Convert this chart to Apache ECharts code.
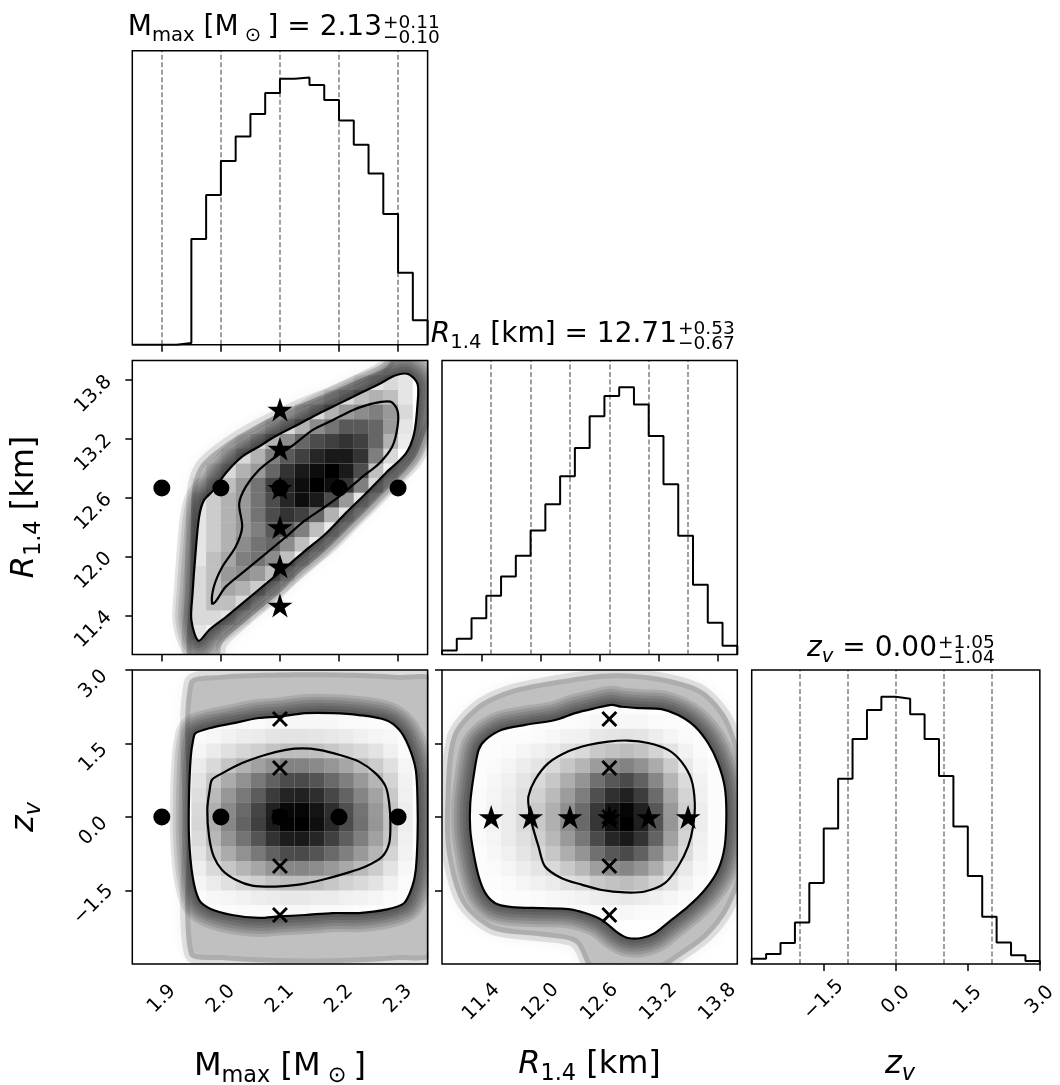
<!DOCTYPE html>
<html><head><meta charset="utf-8">
<script src="https://cdn.jsdelivr.net/npm/echarts@6/dist/echarts.min.js"></script>
<style>html,body{margin:0;padding:0;background:#fff}#c{width:1060px;height:1085px}</style>
</head><body><div id="c"></div>
<script>
const FONT = 'DejaVu Sans';

// ---------- 1D histograms ----------
const mmaxEdges = [1.85,1.875,1.9,1.925,1.95,1.975,2.0,2.025,2.05,2.075,2.1,2.125,2.15,2.175,2.2,2.225,2.25,2.275,2.3,2.325,2.35];
const mmaxCounts = [0,0,0,5,317,449,551,625,692,755,798,802,779,734,673,600,514,392,216,73];
const r14Edges = [11.0,11.15,11.3,11.45,11.6,11.75,11.9,12.05,12.2,12.35,12.5,12.65,12.8,12.95,13.1,13.25,13.4,13.55,13.7,13.85,14.0];
const r14Counts = [12,47,109,176,234,296,372,451,535,620,715,776,802,750,656,511,356,209,95,26];
const zvEdges = [-3.0,-2.7,-2.4,-2.1,-1.8,-1.5,-1.2,-0.9,-0.6,-0.3,0.0,0.3,0.6,0.9,1.2,1.5,1.8,2.1,2.4,2.7,3.0];
const zvCounts = [16,30,63,125,244,408,558,678,765,805,799,752,678,566,414,265,142,65,26,9];

// ---------- ticks ----------
const mmaxTicks = [1.9,2.0,2.1,2.2,2.3];
const r14Ticks = [11.4,12.0,12.6,13.2,13.8];
const zvTicks = [-1.5,0.0,1.5,3.0];

// ---------- marker values ----------
const mmaxMarks = [1.9,2.0,2.1,2.2,2.3];
const r14Marks = [11.5,11.9,12.3,12.7,13.1,13.5];
const zvMarks = [-2,-1,0,1,2];
const mmaxRef = 2.1, r14Ref = 12.7, zvRef = 0;

// ---------- 2D density (darkness 0-10), rows top -> bottom ----------
const densA = [
[0,0,0,0,0,0,0,0,0,0,0,0,0,0,0,0,0,0.2,0.3,0],
[0,0,0,0,0,0,0,0,0,0,0,0,0,0,0,0.5,1.0,1.5,1.0,0],
[0,0,0,0,0,0,0,0,0,0,0,0,0,0.8,1.5,2.5,3.0,2.5,1.0,0],
[0,0,0,0,0,0,0,0,0,0,0,0.8,1.5,3.0,4.0,4.5,5.0,4.0,1.5,0],
[0,0,0,0,0,0,0,0,0,0.8,1.5,3.0,4.5,5.5,6.5,6.5,6.0,4.0,1.0,0],
[0,0,0,0,0,0,0,0.5,1.5,3.0,4.5,6.0,7.0,7.5,8.0,7.5,6.0,3.0,0.8,0],
[0,0,0,0,0,0,0.5,1.5,3.0,5.0,6.5,7.5,8.5,9.0,9.0,8.0,5.0,1.5,0,0],
[0,0,0,0,0,0.8,1.5,3.0,4.0,6.0,8.0,9.0,9.5,10,9.0,7.0,2.5,0.5,0,0],
[0,0,0,0,0.5,1.5,2.5,4.0,5.5,7.5,8.5,9.5,10,9.5,8.0,5.0,1.5,0,0,0],
[0,0,0,0,1.0,2.0,3.0,4.0,5.5,7.0,8.5,9.5,9.0,7.0,4.0,1.0,0,0,0,0],
[0,0,0,0,1.0,2.0,3.0,4.0,5.5,7.0,8.0,7.5,6.0,3.0,1.0,0,0,0,0,0],
[0,0,0,0,1.0,2.0,3.0,4.0,5.0,6.5,6.5,5.0,2.5,0.8,0,0,0,0,0,0],
[0,0,0,0,1.0,2.0,3.0,4.5,5.5,6.0,4.5,2.5,0.8,0,0,0,0,0,0,0],
[0,0,0,0,1.0,2.5,3.5,5.0,5.5,4.5,2.5,0.8,0,0,0,0,0,0,0,0],
[0,0,0,0,1.5,2.5,4.0,4.5,4.0,2.5,0.8,0,0,0,0,0,0,0,0,0],
[0,0,0,0,1.5,2.5,3.5,3.0,2.0,0.8,0,0,0,0,0,0,0,0,0,0],
[0,0,0,0,1.5,2.5,2.5,1.5,0.5,0,0,0,0,0,0,0,0,0,0,0],
[0,0,0,0,1.5,1.5,1.0,0.3,0,0,0,0,0,0,0,0,0,0,0,0],
[0,0,0,0,1.0,0.5,0,0,0,0,0,0,0,0,0,0,0,0,0,0],
[0,0,0,0,0,0,0,0,0,0,0,0,0,0,0,0,0,0,0,0]
];
const densB = [
[0,0,0,0,0,0,0,0,0,0,0,0,0,0,0,0,0,0,0,0],
[0,0,0,0,0,0,0,0,0,0,0,0,0,0,0,0,0,0,0,0],
[0,0,0,0,0,0,0,0,0,0.1,0.1,0.1,0.1,0.1,0,0,0,0,0,0],
[0,0,0,0,0.1,0.1,0.2,0.2,0.2,0.3,0.3,0.3,0.3,0.3,0.2,0.2,0.1,0.1,0,0],
[0,0,0,0,0.2,0.3,0.5,0.7,0.8,1.0,1.1,1.1,1.0,0.9,0.8,0.6,0.4,0.3,0.1,0],
[0,0,0,0,0.4,0.8,1.2,1.6,1.9,2.3,2.6,2.6,2.5,2.2,1.8,1.5,1.1,0.6,0.2,0],
[0,0,0,0,0.8,1.5,2.3,3.0,3.7,4.3,4.9,4.9,4.6,4.1,3.5,2.7,2.0,1.2,0.4,0],
[0,0,0,0,1.1,2.2,3.3,4.3,5.3,6.2,7.0,7.1,6.7,5.9,5.0,4.0,2.9,1.7,0.5,0.1],
[0,0,0,0,1.3,2.7,4.1,5.3,6.4,7.7,8.6,8.7,8.2,7.2,6.1,4.8,3.6,2.1,0.6,0.1],
[0,0,0,0,1.5,3.1,4.6,5.9,7.3,8.7,9.7,9.8,9.2,8.2,6.9,5.5,4.0,2.3,0.7,0.1],
[0,0,0,0,1.6,3.1,4.7,6.1,7.5,8.9,9.9,10,9.4,8.4,7.0,5.6,4.1,2.4,0.7,0.1],
[0,0,0,0,1.4,2.8,4.2,5.5,6.7,8.0,8.9,9.0,8.5,7.5,6.3,5.0,3.7,2.2,0.6,0.1],
[0,0,0,0,1.1,2.2,3.3,4.3,5.3,6.2,7.0,7.1,6.7,5.9,5.0,4.0,2.9,1.7,0.5,0.1],
[0,0,0,0,0.7,1.5,2.2,2.9,3.5,4.2,4.7,4.8,4.5,4.0,3.4,2.7,2.0,1.1,0.3,0],
[0,0,0,0,0.4,0.8,1.2,1.6,1.9,2.3,2.6,2.6,2.5,2.2,1.8,1.5,1.1,0.6,0.2,0],
[0,0,0,0,0.1,0.3,0.4,0.5,0.7,0.8,0.9,0.9,0.8,0.8,0.6,0.5,0.4,0.2,0.1,0],
[0,0,0,0,0,0.1,0.1,0.2,0.2,0.2,0.3,0.3,0.2,0.2,0.2,0.1,0.1,0.1,0,0],
[0,0,0,0,0,0,0,0,0,0.1,0.1,0.1,0.1,0,0,0,0,0,0,0],
[0,0,0,0,0,0,0,0,0,0,0,0,0,0,0,0,0,0,0,0],
[0,0,0,0,0,0,0,0,0,0,0,0,0,0,0,0,0,0,0,0]
];
const densC = [
[0,0,0,0,0,0,0,0,0,0,0,0,0,0,0,0,0,0,0,0],
[0,0,0,0,0,0,0,0,0,0,0,0,0,0,0,0,0,0,0,0],
[0,0,0,0,0,0,0,0,0,0,0.1,0.1,0.1,0.1,0,0,0,0,0,0],
[0,0,0,0,0,0,0.1,0.1,0.1,0.2,0.3,0.3,0.3,0.3,0.2,0.1,0.1,0,0,0],
[0,0,0,0.1,0.1,0.1,0.2,0.3,0.5,0.6,0.9,1.0,1.1,1.0,0.7,0.4,0.2,0.1,0,0],
[0,0,0.1,0.1,0.2,0.4,0.6,0.8,1.2,1.5,2.1,2.4,2.6,2.3,1.7,1.1,0.5,0.2,0,0],
[0,0,0.1,0.2,0.4,0.7,1.0,1.5,2.2,2.9,3.9,4.6,4.9,4.3,3.3,2.0,0.9,0.3,0.1,0],
[0,0,0.1,0.3,0.6,1.0,1.5,2.2,3.2,4.2,5.6,6.6,7.1,6.2,4.7,2.9,1.4,0.5,0.1,0],
[0,0,0.2,0.4,0.7,1.2,1.8,2.7,3.9,5.1,6.9,8.1,8.7,7.6,5.8,3.5,1.7,0.6,0.1,0],
[0,0,0.2,0.5,0.8,1.3,2.1,3.1,4.4,5.8,7.8,9.2,9.8,8.7,6.6,4.0,1.9,0.7,0.1,0],
[0,0,0.2,0.5,0.8,1.4,2.1,3.1,4.5,5.9,7.9,9.4,10,8.8,6.7,4.1,1.9,0.7,0.1,0],
[0,0,0.2,0.4,0.8,1.2,1.9,2.8,4.0,5.3,7.1,8.5,9.0,8.0,6.1,3.7,1.7,0.6,0.1,0],
[0,0,0.1,0.3,0.6,1.0,1.5,2.2,3.2,4.2,5.6,6.6,7.1,6.2,4.7,2.9,1.4,0.5,0.1,0],
[0,0,0.1,0.2,0.4,0.7,1.0,1.5,2.1,2.8,3.8,4.5,4.8,4.2,3.2,1.9,0.9,0.3,0.1,0],
[0,0,0.1,0.1,0.2,0.4,0.6,0.8,1.2,1.5,2.1,2.4,2.6,2.3,1.7,1.1,0.5,0.2,0,0],
[0,0,0,0,0.1,0.1,0.2,0.3,0.4,0.5,0.7,0.8,0.9,0.8,0.6,0.4,0.2,0.1,0,0],
[0,0,0,0,0,0,0.1,0.1,0.1,0.2,0.2,0.2,0.3,0.2,0.2,0.1,0,0,0,0],
[0,0,0,0,0,0,0,0,0,0,0,0,0,0,0,0,0,0,0,0],
[0,0,0,0,0,0,0,0,0,0,0,0,0,0,0,0,0,0,0,0],
[0,0,0,0,0,0,0,0,0,0,0,0,0,0,0,0,0,0,0,0]
];

// ---------- contours & scatter-cloud outlines (data units) ----------
const contourAOuter = [[1.962,11.14],[1.950,11.35],[1.952,11.62],[1.957,12.03],[1.963,12.40],[1.971,12.57],[1.988,12.68],[2.008,12.85],[2.036,13.02],[2.064,13.12],[2.093,13.23],[2.132,13.35],[2.166,13.46],[2.200,13.56],[2.234,13.66],[2.268,13.76],[2.296,13.85],[2.318,13.86],[2.333,13.76],[2.333,13.56],[2.327,13.25],[2.313,13.05],[2.279,12.85],[2.245,12.64],[2.211,12.44],[2.177,12.23],[2.143,12.06],[2.110,11.89],[2.076,11.72],[2.042,11.55],[2.008,11.38],[1.980,11.25]];
const contourAInner = [[1.985,11.52],[1.988,11.69],[2.002,11.89],[2.025,12.10],[2.036,12.30],[2.031,12.54],[2.042,12.71],[2.064,12.88],[2.093,13.02],[2.121,13.13],[2.155,13.29],[2.189,13.39],[2.222,13.49],[2.256,13.56],[2.287,13.58],[2.299,13.49],[2.299,13.32],[2.290,13.12],[2.268,12.95],[2.239,12.81],[2.206,12.64],[2.177,12.51],[2.143,12.37],[2.110,12.20],[2.076,12.03],[2.042,11.86],[2.008,11.69],[1.991,11.54]];
const cloudA = [[1.946,10.9],[1.947,11.62],[1.949,12.30],[1.952,12.71],[1.963,12.91],[1.985,13.05],[2.019,13.20],[2.059,13.34],[2.098,13.46],[2.143,13.58],[2.189,13.69],[2.234,13.81],[2.279,13.93],[2.300,14.1],[2.36,14.1],[2.36,13.49],[2.344,13.22],[2.330,13.02],[2.302,12.81],[2.268,12.61],[2.234,12.40],[2.200,12.20],[2.166,12.00],[2.132,11.83],[2.098,11.62],[2.064,11.45],[2.031,11.28],[2.002,11.11],[1.994,10.9]];

const contourBOuter = [[1.957,1.71],[1.980,1.81],[2.019,1.91],[2.064,2.02],[2.098,2.05],[2.143,2.12],[2.189,2.12],[2.234,2.08],[2.279,1.98],[2.302,1.78],[2.318,1.44],[2.330,0.96],[2.333,0.28],[2.333,-0.40],[2.330,-1.08],[2.324,-1.42],[2.310,-1.76],[2.279,-1.89],[2.234,-1.96],[2.189,-1.96],[2.143,-2.00],[2.098,-2.03],[2.064,-2.06],[2.019,-2.00],[1.980,-1.86],[1.963,-1.69],[1.952,-1.21],[1.946,-0.40],[1.946,0.42],[1.949,1.23],[1.953,1.57]];
const contourBInner = [[1.985,0.76],[2.002,0.89],[2.036,1.10],[2.076,1.27],[2.110,1.37],[2.138,1.40],[2.166,1.37],[2.200,1.27],[2.234,1.13],[2.262,0.89],[2.279,0.62],[2.285,0.28],[2.287,-0.13],[2.285,-0.53],[2.273,-0.81],[2.245,-1.01],[2.211,-1.15],[2.172,-1.28],[2.132,-1.38],[2.093,-1.42],[2.053,-1.40],[2.025,-1.28],[2.002,-1.08],[1.988,-0.81],[1.980,-0.40],[1.977,0.15],[1.981,0.55]];
const cloudB = [[1.946,2.75],[2.0,2.9],[2.1,2.95],[2.2,2.95],[2.3,2.9],[2.36,2.8],[2.36,-2.8],[2.3,-2.92],[2.2,-2.98],[2.1,-2.98],[2.0,-2.92],[1.946,-2.8],[1.944,0]];

const contourCOuter = [[11.372,1.37],[11.439,1.57],[11.608,1.78],[11.845,1.88],[12.149,1.98],[12.351,2.12],[12.554,2.22],[12.723,2.29],[12.824,2.25],[13.027,2.22],[13.230,2.20],[13.399,2.08],[13.568,1.85],[13.703,1.51],[13.804,1.10],[13.872,0.62],[13.889,0.08],[13.872,-0.60],[13.804,-1.08],[13.669,-1.49],[13.500,-1.83],[13.331,-2.10],[13.162,-2.37],[13.027,-2.47],[12.892,-2.47],[12.791,-2.37],[12.622,-2.10],[12.453,-1.96],[12.284,-1.88],[12.014,-1.86],[11.709,-1.84],[11.541,-1.76],[11.439,-1.55],[11.372,-1.21],[11.321,-0.74],[11.287,-0.26],[11.287,0.28],[11.321,0.83]];
const contourCInner = [[11.878,0.42],[11.946,0.76],[12.081,1.10],[12.284,1.34],[12.486,1.47],[12.689,1.54],[12.892,1.56],[13.095,1.51],[13.297,1.37],[13.432,1.13],[13.534,0.76],[13.568,0.28],[13.551,-0.19],[13.500,-0.60],[13.399,-1.01],[13.264,-1.35],[13.061,-1.52],[12.858,-1.54],[12.622,-1.49],[12.419,-1.38],[12.216,-1.25],[12.047,-1.01],[11.980,-0.60],[11.912,-0.13],[11.885,0.15]];
const cloudC = [[11.034,0.28],[11.10,1.64],[11.34,2.25],[11.68,2.59],[12.18,2.80],[12.69,2.93],[13.20,2.86],[13.64,2.59],[13.91,1.98],[14.05,0.96],[14.05,-1.08],[13.91,-1.89],[13.70,-2.44],[13.43,-2.84],[13.20,-3.1],[12.52,-3.1],[12.35,-2.57],[12.01,-2.44],[11.51,-2.30],[11.20,-1.76],[11.05,-0.74]];

// ---------- layout ----------
const COLX = [132.3, 442, 751.7], ROWY = [50.7, 360.5, 670], PW = 295.3, PH = 294;
const STAR = 'path://M100,0L122.45,69.1L195.1,69.1L136.3,111.8L158.8,180.9L100,138.2L41.2,180.9L63.7,111.8L4.9,69.1L77.55,69.1Z';
const XMARK = 'path://M0,2.6L2.6,0L10,7.4L17.4,0L20,2.6L12.6,10L20,17.4L17.4,20L10,12.6L2.6,20L0,17.4L7.4,10Z';

function fmt(v){ return (v < 0 ? '\u2212' : '') + Math.abs(v).toFixed(1); }
const cells = [[0,0],[1,0],[1,1],[2,0],[2,1],[2,2]]; // [row,col] per grid
const grid = cells.map(([r,c]) => ({left: COLX[c], top: ROWY[r], width: PW, height: PH, show: true, borderColor: '#000', borderWidth: 1.5, backgroundColor: 'transparent', z: 10}));

const TICKFS = 19.5;
const tickStyle = {color:'#000', width:1.5};
function xAx(gi, min, max, ticks, labels, margin){
  return {gridIndex:gi, type:'value', min, max, axisLine:{show:false}, splitLine:{show:false},
    axisTick:{show:true, customValues:ticks, length:7, lineStyle:tickStyle},
    axisLabel:{show:labels, customValues:ticks, formatter:fmt, rotate:45, align:'center', verticalAlign:'middle', margin:margin||36, fontSize:TICKFS, fontFamily:FONT, color:'#000'}};
}
function yAx(gi, min, max, ticks, labels){
  return {gridIndex:gi, type:'value', min, max, axisLine:{show:false}, splitLine:{show:false},
    axisTick:{show:true, customValues:ticks, length:7, lineStyle:tickStyle},
    axisLabel:{show:labels, customValues:ticks, formatter:fmt, rotate:45, align:'center', verticalAlign:'top', lineHeight:40, margin:53, fontSize:TICKFS, fontFamily:FONT, color:'#000'}};
}
function yHist(gi, counts){ return {gridIndex:gi, type:'value', min:0, max:1.1*Math.max(...counts), show:false, splitLine:{show:false}}; }

const xAxis = [
  xAx(0, 1.85, 2.35, mmaxTicks, false),
  xAx(1, 1.85, 2.35, mmaxTicks, false),
  xAx(2, 11, 14, r14Ticks, false),
  xAx(3, 1.85, 2.35, mmaxTicks, true, 35),
  xAx(4, 11, 14, r14Ticks, true, 38),
  xAx(5, -3, 3, zvTicks, true, 36)
];
const yAxis = [
  yHist(0, mmaxCounts),
  yAx(1, 11, 14, r14Ticks, true),
  yHist(2, r14Counts),
  yAx(3, -3, 3, zvTicks, true),
  yAx(4, -3, 3, zvTicks, false),
  yHist(5, zvCounts)
];

function histData(edges, counts){
  const d = [[edges[0], 0]];
  counts.forEach((c, i) => d.push([edges[i], c]));
  d.push([edges[edges.length-1], counts[counts.length-1]]);
  d.push([edges[edges.length-1], 0]);
  return d;
}
function histSeries(gi, edges, counts, marks){
  return {type:'line', xAxisIndex:gi, yAxisIndex:gi, step:'end', symbol:'none', data:histData(edges, counts),
    lineStyle:{color:'#000', width:2}, z:6, silent:true, clip:true,
    markLine:{silent:true, symbol:'none', label:{show:false}, animation:false,
      lineStyle:{type:[5,2.5], color:'#808080', width:1.5}, data:marks.map(v => ({xAxis:v}))}};
}
function polySeries(gi, pts, style, z, smooth){
  return {type:'custom', xAxisIndex:gi, yAxisIndex:gi, coordinateSystem:'cartesian2d', clip:true, z, silent:true,
    data:[pts[0]],
    renderItem(params, api){
      return {type:'polygon', shape:{points: pts.map(p => api.coord(p)), smooth: smooth}, style: Object.assign({}, style)};
    }};
}
function cellSeries(gi, mat, xEdges, yEdges){
  const data = [];
  const n = mat.length;
  for (let j = 0; j < n; j++) {
    const yi = n - 1 - j;
    for (let i = 0; i < mat[j].length; i++) {
      const v = mat[j][i];
      if (v > 0) data.push([xEdges[i], xEdges[i+1], yEdges[yi], yEdges[yi+1], v]);
    }
  }
  return {type:'custom', xAxisIndex:gi, yAxisIndex:gi, coordinateSystem:'cartesian2d', clip:true, z:4, silent:true,
    encode:{x:[0,1], y:[2,3]}, data,
    renderItem(params, api){
      const a = api.coord([api.value(0), api.value(3)]);
      const b = api.coord([api.value(1), api.value(2)]);
      return {type:'rect', shape:{x:a[0], y:a[1], width:b[0]-a[0], height:b[1]-a[1]},
        style:{fill:'rgba(0,0,0,' + (api.value(4)/10) + ')'}};
    }};
}
function panel2D(gi, cloud, outer, inner, dens, xEdges, yEdges){
  const out = [
    polySeries(gi, cloud, {fill:'rgba(0,0,0,0.2)', stroke:'rgba(0,0,0,0.1)', lineWidth:10, shadowBlur:16, shadowColor:'rgba(0,0,0,0.3)'}, 1, 0.3)
  ];
  [38, 32, 26, 20, 14, 8].forEach(w => out.push(
    polySeries(gi, outer, {fill:'none', stroke:'rgba(0,0,0,0.1)', lineWidth:w, shadowBlur:7, shadowColor:'rgba(0,0,0,0.12)'}, 2, 0.3)));
  out.push(
    polySeries(gi, outer, {fill:'#fff', stroke:'none'}, 3, 0.3),
    cellSeries(gi, dens, xEdges, yEdges),
    polySeries(gi, outer, {fill:'none', stroke:'#000', lineWidth:2.2}, 5, 0.3),
    polySeries(gi, inner, {fill:'none', stroke:'#000', lineWidth:2.2}, 5, 0.3));
  return out;
}
function markers(gi, data, symbol, size){
  return {type:'scatter', xAxisIndex:gi, yAxisIndex:gi, symbol, symbolSize:size, data, silent:true, z:7,
    itemStyle:{color:'#000', opacity:1}, clip:false};
}

const dotsA = mmaxMarks.map(m => [m, r14Ref]);
const starsA = r14Marks.map(r => [mmaxRef, r]);
const dotsB = mmaxMarks.map(m => [m, zvRef]);
const crossB = zvMarks.map(z => [mmaxRef, z]);
const starsC = r14Marks.map(r => [r, zvRef]);
const crossC = zvMarks.map(z => [r14Ref, z]);

const series = [
  histSeries(0, mmaxEdges, mmaxCounts, mmaxMarks),
  histSeries(2, r14Edges, r14Counts, r14Marks),
  histSeries(5, zvEdges, zvCounts, zvMarks),
  ...panel2D(1, cloudA, contourAOuter, contourAInner, densA, mmaxEdges, r14Edges),
  ...panel2D(3, cloudB, contourBOuter, contourBInner, densB, mmaxEdges, zvEdges),
  ...panel2D(4, cloudC, contourCOuter, contourCInner, densC, r14Edges, zvEdges),
  markers(1, dotsA, 'circle', 17),
  markers(1, starsA, STAR, [25,24]),
  markers(3, dotsB, 'circle', 17),
  markers(3, crossB, XMARK, 16),
  markers(4, starsC, STAR, [25,24]),
  markers(4, crossC, XMARK, 16)
];

// ---------- texts ----------
function richSet(fs){
  const sf = fs * 0.7, lh = Math.round(fs * 1.28), slh = Math.round(sf);
  return {
    n: {fontSize:fs, fontFamily:FONT, lineHeight:lh, fill:'#000'},
    i: {fontSize:fs, fontFamily:FONT, fontStyle:'italic', lineHeight:lh, fill:'#000'},
    s: {fontSize:sf, fontFamily:FONT, lineHeight:slh, verticalAlign:'bottom', fill:'#000'},
    si:{fontSize:sf, fontFamily:FONT, fontStyle:'italic', lineHeight:slh, verticalAlign:'bottom', fill:'#000'}
  };
}
const RT = richSet(28), RL = richSet(32);
function rt(x, y, text, align, rich, rotation){
  return {type:'text', x, y, rotation: rotation || 0, silent:true, z:100,
    style:{text, rich, align, verticalAlign:'middle'}};
}
function small(x, y, text){
  return {type:'text', x, y, silent:true, z:100,
    style:{text, fontSize:18.5, fontFamily:FONT, fill:'#000', align:'left', verticalAlign:'middle'}};
}
const graphic = [
  rt(382, 28, '{n|M}{s|max}{n| [M}{s| \u2299 }{n|] = 2.13}', 'right', RT),
  small(383, 23, '+0.11'), small(383, 38, '\u22120.10'),
  rt(677, 334.5, '{i|R}{s|1.4}{n| [km] = 12.71}', 'right', RT),
  small(678, 329.5, '+0.53'), small(678, 344.5, '\u22120.67'),
  rt(937, 648.5, '{i|z}{si|v}{n| = 0.00}', 'right', RT),
  small(938, 643.5, '+1.05'), small(938, 658.5, '\u22121.04'),
  rt(280, 1067, '{n|M}{s|max}{n| [M}{s| \u2299 }{n|]}', 'center', RL),
  rt(589.5, 1065, '{i|R}{s|1.4}{n| [km]}', 'center', RL),
  rt(900, 1065, '{i|z}{si|v}', 'center', RL),
  rt(25, 507, '{i|R}{s|1.4}{n| [km]}', 'center', RL, Math.PI/2),
  rt(25, 817, '{i|z}{si|v}', 'center', RL, Math.PI/2)
];

const chart = echarts.init(document.getElementById('c'), null, {renderer:'canvas'});
chart.setOption({animation:false, backgroundColor:'#fff', grid, xAxis, yAxis, series, graphic:{elements:graphic}});
</script></body></html>
